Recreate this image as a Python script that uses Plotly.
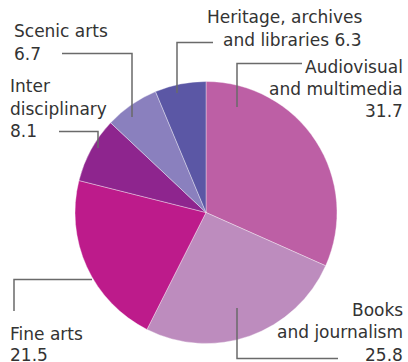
import plotly.graph_objects as go

# Share of spending by cultural domain (%), clockwise from 12 o'clock
domains = ["Audiovisual and multimedia", "Books and journalism", "Fine arts",
           "Inter disciplinary", "Scenic arts", "Heritage, archives and libraries"]
shares = [31.7, 25.8, 21.5, 8.1, 6.7, 6.3]
colors = ["#bd5fa5", "#bd8cbe", "#bd1b8b", "#8e258e", "#8a80be", "#5b57a5"]

# Label text lines per domain (value appended from shares)
label_lines = {
    "Audiovisual and multimedia": ["Audiovisual", "and multimedia", "{v}"],
    "Books and journalism": ["Books", "and journalism", "{v}"],
    "Fine arts": ["Fine arts", "{v}"],
    "Inter disciplinary": ["Inter", "disciplinary", "{v}"],
    "Scenic arts": ["Scenic arts", "{v}"],
    "Heritage, archives and libraries": ["Heritage, archives", "and libraries {v}"],
}

W, H = 408, 362
CX, CY, R = 206, 212.5, 131


def px(x):
    return x / W


def py(y):
    return 1 - y / H


fig = go.Figure(go.Pie(
    labels=domains,
    values=shares,
    sort=False,
    direction="clockwise",
    rotation=0,
    marker=dict(colors=colors, line=dict(color="rgba(255,255,255,0.6)", width=0.6)),
    textinfo="none",
    hoverinfo="label+value",
    showlegend=False,
    domain=dict(x=[px(CX - R), px(CX + R)], y=[py(CY + R), py(CY - R)]),
))

# Leader lines (polylines in pixel space)
leaders = {
    "Heritage, archives and libraries": [(177, 93), (177, 42.5), (213, 42.5)],
    "Scenic arts": [(132, 117), (132, 53.5), (62, 53.5)],
    "Inter disciplinary": [(98, 148), (98, 131.5), (59, 131.5)],
    "Audiovisual and multimedia": [(237, 107), (237, 63.5), (302, 63.5)],
    "Books and journalism": [(237, 308), (237, 358.5), (338, 358.5)],
    "Fine arts": [(92, 279.5), (14, 279.5), (14, 311)],
}
# x, vertical middle of each text line, anchor
label_pos = {
    "Heritage, archives and libraries": (364, [16.5, 38.5], "right"),
    "Scenic arts": (12, [29.5, 53], "left"),
    "Inter disciplinary": (8, [85, 107.5, 130], "left"),
    "Audiovisual and multimedia": (405, [65.5, 88, 110], "right"),
    "Books and journalism": (405, [308.5, 331, 353.5], "right"),
    "Fine arts": (8, [333, 353.7], "left"),
}
FONT = dict(family="DejaVu Sans", size=17, color="#333333")

shapes = []
for name, pts in leaders.items():
    path = "M " + " L ".join(f"{px(x):.5f},{py(y):.5f}" for x, y in pts)
    shapes.append(dict(type="path", path=path, xref="paper", yref="paper",
                       line=dict(color="#6a6a6a", width=1.5)))

annotations = []
for name, v in zip(domains, shares):
    x, mids, anchor = label_pos[name]
    for line, mid in zip(label_lines[name], mids):
        annotations.append(dict(
            text=line.format(v=v), x=px(x), y=py(mid),
            xref="paper", yref="paper", xanchor=anchor, yanchor="middle",
            yshift=-1, showarrow=False, font=FONT,
        ))

fig.update_layout(
    width=W, height=H,
    margin=dict(l=0, r=0, t=0, b=0),
    paper_bgcolor="white", plot_bgcolor="white",
    shapes=shapes, annotations=annotations,
)

fig.write_html("out.html")
